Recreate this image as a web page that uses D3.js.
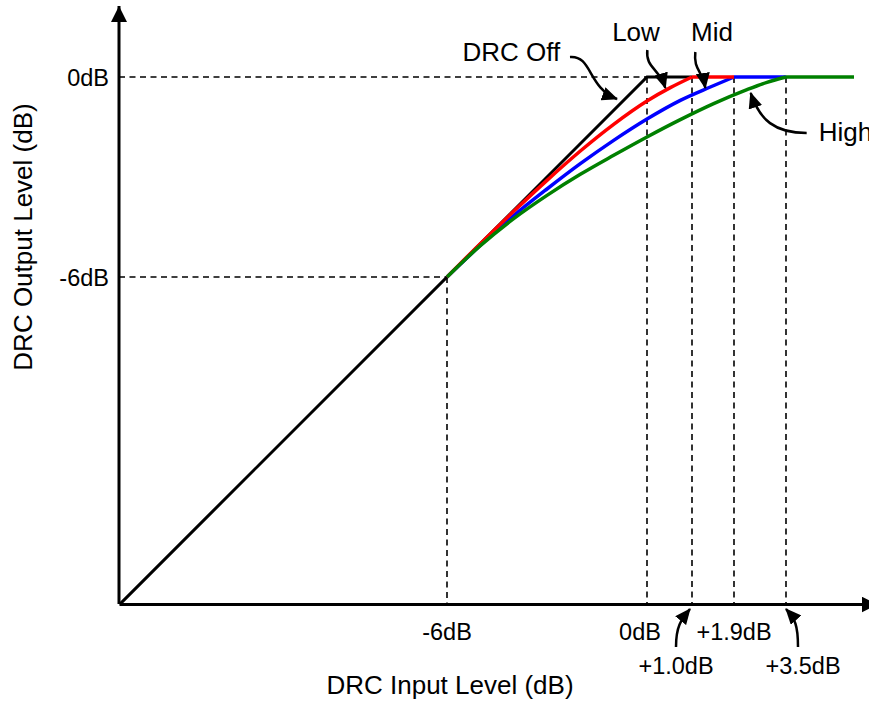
<!DOCTYPE html>
<html>
<head>
<meta charset="utf-8">
<script src="https://cdn.jsdelivr.net/npm/d3@7"></script>
<style>
  html, body { margin: 0; padding: 0; background: #fff; }
  svg { display: block; font-family: "Liberation Sans", Arial, sans-serif; }
</style>
</head>
<body>
<svg id="chart" width="869" height="702"></svg>
<script>
// ---- Data (dB) ----
const xTitle = "DRC Input Level (dB)";
const yTitle = "DRC Output Level (dB)";
const yTickValues = [0, -6];
const yTickLabels = ["0dB", "-6dB"];
const xTickValues = [-6, 0];
const xTickLabels = ["-6dB", "0dB"];
// knee end points (plotted positions) for Low, Mid, High
const kneeX = [1.35, 2.61, 4.17];
const kneeLabels = ["+1.0dB", "+1.9dB", "+3.5dB"];
const flatEnd = [2.61, 4.17, 6.21];

const offCurve = [[-15.82, -15.82], [0, 0], [1.35, 0]];
const lowCurve = [[-6, -6], [-5, -5.0], [-4, -4.03], [-3, -3.1], [-2, -2.22], [-1, -1.42], [0, -0.72], [0.7, -0.32], [1.35, 0]];
const midCurve = [[-6, -6], [-5, -5.05], [-4, -4.16], [-3, -3.36], [-2, -2.6], [-1, -1.9], [0, -1.26], [1, -0.7], [1.9, -0.3], [2.61, 0]];
const highCurve = [[-6, -6], [-5, -5.06], [-4, -4.25], [-3, -3.55], [-2, -2.92], [-1, -2.35], [0, -1.8], [1, -1.28], [2, -0.8], [3, -0.38], [3.6, -0.16], [4.17, 0]];
const seriesNames = ["DRC Off", "Low", "Mid", "High"];
const seriesColors = ["#000000", "#ff0000", "#0000ff", "#008000"];

// ---- Scales ----
const svg = d3.select("#chart");
const x = d3.scaleLinear().domain([-15.84, 6.9]).range([119, 877]);
const y = d3.scaleLinear().domain([-15.81, 2.13]).range([604, 6]);
const x0 = x(-15.84), y0 = y(-15.81);

// arrow markers
const defs = svg.append("defs");
defs.append("marker").attr("id", "axhead")
  .attr("markerUnits", "userSpaceOnUse")
  .attr("viewBox", "0 0 16 16").attr("refX", 16).attr("refY", 8)
  .attr("markerWidth", 16).attr("markerHeight", 16).attr("orient", "auto")
  .append("path").attr("d", "M0,0 L16,8 L0,16 Z").attr("fill", "#000");
defs.append("marker").attr("id", "ahead")
  .attr("markerUnits", "userSpaceOnUse")
  .attr("viewBox", "0 0 16 14").attr("refX", 15).attr("refY", 7)
  .attr("markerWidth", 16).attr("markerHeight", 14).attr("orient", "auto")
  .append("path").attr("d", "M0,0 L16,7 L0,14 Z").attr("fill", "#000");

// ---- Dashed guide lines ----
const dash = svg.append("g").attr("stroke", "#000").attr("stroke-width", 1.6)
  .attr("stroke-dasharray", "6,4.5").attr("fill", "none");
yTickValues.forEach(v => {
  dash.append("line").attr("x1", x0).attr("x2", x(v)).attr("y1", y(v)).attr("y2", y(v));
});
xTickValues.concat(kneeX).forEach(v => {
  const top = v < 0 ? y(v) : y(0);
  dash.append("line").attr("x1", x(v)).attr("x2", x(v)).attr("y1", top).attr("y2", y0);
});

// ---- Axes ----
const gx = svg.append("g").attr("transform", `translate(0,${y0})`)
  .call(d3.axisBottom(x).tickValues([]).tickSizeOuter(0));
gx.select(".domain").attr("stroke", "#000").attr("stroke-width", 3)
  .attr("marker-end", "url(#axhead)");
const gy = svg.append("g").attr("transform", `translate(${x0},0)`)
  .call(d3.axisLeft(y).tickValues([]).tickSizeOuter(0));
gy.select(".domain").attr("stroke", "#000").attr("stroke-width", 3)
  .attr("d", `M0,${y0}V${y.range()[1]}`)
  .attr("marker-end", "url(#axhead)");

// ---- Curves ----
const line = d3.line().x(d => x(d[0])).y(d => y(d[1])).curve(d3.curveMonotoneX);
const lineLin = d3.line().x(d => x(d[0])).y(d => y(d[1]));
svg.append("path").datum(offCurve).attr("d", lineLin).attr("fill", "none")
  .attr("stroke", seriesColors[0]).attr("stroke-width", 3);
const order = [[midCurve, 2, 1], [lowCurve, 1, 0], [highCurve, 3, 2]];
order.forEach(([c, ci, ki]) => {
  const g = svg.append("g").attr("fill", "none").attr("stroke", seriesColors[ci])
    .attr("stroke-width", 3.5).attr("stroke-linecap", "butt");
  g.append("path").datum(c).attr("d", line);
  g.append("path").datum([[kneeX[ki], 0], [flatEnd[ki], 0]]).attr("d", lineLin);
});

// ---- Tick labels ----
const tickFont = 23.5;
yTickValues.forEach((v, i) => {
  svg.append("text").attr("x", x0 - 10).attr("y", y(v) + 9)
    .attr("text-anchor", "end").attr("font-size", tickFont).text(yTickLabels[i]);
});
const xDx = [0, -7];
xTickValues.forEach((v, i) => {
  svg.append("text").attr("x", x(v) + xDx[i]).attr("y", y0 + 36)
    .attr("text-anchor", "middle").attr("font-size", tickFont).text(xTickLabels[i]);
});
const kneeDx = [-16, 0, 17];
const kneeRow = [1, 0, 1];
kneeX.forEach((v, i) => {
  svg.append("text").attr("x", x(v) + kneeDx[i]).attr("y", y0 + 36 + kneeRow[i] * 34)
    .attr("text-anchor", "middle").attr("font-size", tickFont).text(kneeLabels[i]);
});

// ---- Annotation arrows ----
function arrow(tx, ty, s, c1, c2) {
  svg.append("path")
    .attr("d", `M${tx + s[0]},${ty + s[1]} C${tx + c1[0]},${ty + c1[1]} ${tx + c2[0]},${ty + c2[1]} ${tx},${ty}`)
    .attr("fill", "none").attr("stroke", "#000").attr("stroke-width", 2.5)
    .attr("marker-end", "url(#ahead)");
}
arrow(x(kneeX[0]) - 2, y0 + 5, [-14, 38], [-14, 16], [-8, 10]);
arrow(x(kneeX[2]), y0 + 5, [12, 38], [12, 16], [9, 10]);
arrow(x(-0.9), y(-0.66), [-47, -42], [-25, -44], [-29, -11]);
arrow(x(0.55), y(-0.33), [-18, -38], [-20, -20], [-6, -20]);
arrow(x(1.75), y(-0.33), [-10, -36], [-12, -18], [-3, -18]);
arrow(x(3.11), y(-0.48), [56, 40], [24, 40], [9, 27]);

const annFont = 26;
svg.append("text").attr("x", x(-2.6)).attr("y", y(0.47)).attr("text-anchor", "end")
  .attr("font-size", annFont).text(seriesNames[0]);
svg.append("text").attr("x", x(-0.33)).attr("y", y(1.08)).attr("text-anchor", "middle")
  .attr("font-size", annFont).text(seriesNames[1]);
svg.append("text").attr("x", x(1.95)).attr("y", y(1.08)).attr("text-anchor", "middle")
  .attr("font-size", annFont).text(seriesNames[2]);
svg.append("text").attr("x", x(5.15)).attr("y", y(-1.92)).attr("text-anchor", "start")
  .attr("font-size", annFont).text(seriesNames[3]);

// ---- Axis titles ----
svg.append("text").attr("x", 450).attr("y", 694).attr("text-anchor", "middle")
  .attr("font-size", annFont).text(xTitle);
svg.append("text").attr("transform", "translate(32,237) rotate(-90)")
  .attr("text-anchor", "middle").attr("font-size", annFont).text(yTitle);
</script>
</body>
</html>
